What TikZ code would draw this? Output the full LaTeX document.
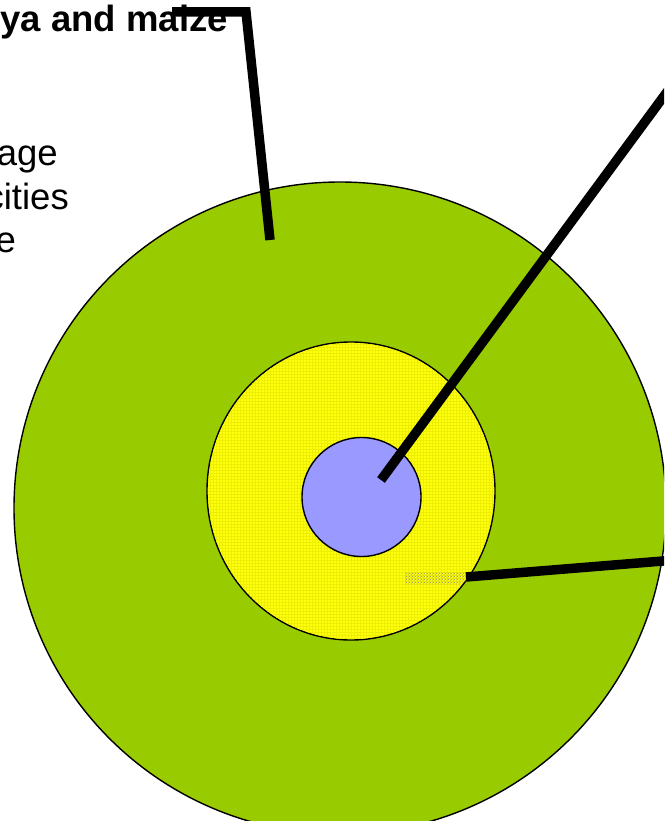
\documentclass[tikz,border=0pt]{standalone}
\usepackage{fontspec}
\setmainfont{Liberation Sans}
\usetikzlibrary{shapes.geometric,patterns}
\definecolor{outgreen}{HTML}{99CC00}
\definecolor{midyellow}{HTML}{FFFF10}
\definecolor{meshyellow}{HTML}{EEEE00}
\definecolor{inblue}{HTML}{9999FF}
\tikzset{
  ring/.style={draw=black, line width=1.4pt, inner sep=0pt},
  callout/.style={draw=black, line width=9.5pt, line join=miter},
  lbl/.style={inner sep=0pt, font=\fontsize{36.5}{44}\selectfont},
}
\begin{document}
\begin{tikzpicture}[x=1pt,y=-1pt]
\useasboundingbox (0,0) rectangle (664,821);
\clip (0,0) rectangle (664,821);
\node[ring, circle, fill=outgreen, minimum size=652pt] (outer) at (340,508) {};
\node[ring, ellipse, fill=midyellow, minimum width=288pt, minimum height=298pt] (mid) at (351,491) {};
\fill[pattern=grid, pattern color=meshyellow] (351,491) ellipse [x radius=143pt, y radius=148pt];
\node[ring, circle, fill=inblue, minimum size=119pt] (inner) at (361.5,497) {};
\fill[pattern=crosshatch dots, pattern color=black!45] (405,572) rectangle (466,584);
\node[lbl, anchor=base east, font=\bfseries\fontsize{36.5}{44}\selectfont] (t1) at (228,32) {ya and maize};
\node[lbl, anchor=base east] (t2) at (58,166) {age};
\node[lbl, anchor=base east] (t3) at (69,209) {cities};
\node[lbl, anchor=base east] (t4) at (16,252) {e};
\coordinate (a0) at (172,12);
\coordinate (a1) at (246,12);
\coordinate (a2) at (270,240);
\coordinate (b0) at (381,480);
\coordinate (b1) at (720,20);
\coordinate (c0) at (466,577);
\coordinate (c1) at (700,558);
\draw[callout] (a0) -- (a1) -- (a2);
\draw[callout] (b0) -- (b1);
\draw[callout] (c0) -- (c1);
\end{tikzpicture}
\end{document}
